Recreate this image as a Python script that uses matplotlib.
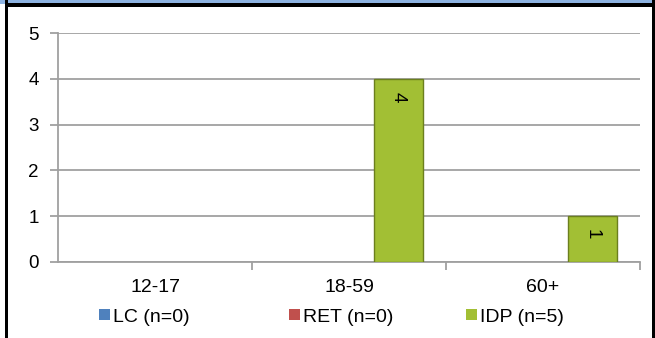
import matplotlib
matplotlib.use("Agg")
import matplotlib.pyplot as plt
from matplotlib.patches import Rectangle
import numpy as np

# data
categories = ["12-17", "18-59", "60+"]
series_names = ["LC (n=0)", "RET (n=0)", "IDP (n=5)"]
lc_values = [0, 0, 0]
ret_values = [0, 0, 0]
idp_values = [0, 4, 1]
yticks = [0, 1, 2, 3, 4, 5]

face_colors = ["#4f81bd", "#c0504d", "#a2bf34"]
edge_colors = ["#2c4d75", "#8c3836", "#6b7f1e"]

plt.rcParams['font.family'] = ['Liberation Sans', 'DejaVu Sans']

W, H = 655, 338
fig = plt.figure(figsize=(W / 100, H / 100), dpi=100)

# frame pieces: blue title band cut off at the top, black border
fig.patches.append(Rectangle((0, (H - 3.5) / H), 1, 3.5 / H, transform=fig.transFigure,
                             facecolor="#8db3e2", edgecolor="none"))
fig.patches.append(Rectangle((5 / W, (H - 6.5) / H), (W - 5) / W, 3 / H, transform=fig.transFigure,
                             facecolor="black", edgecolor="none"))
fig.patches.append(Rectangle((5 / W, 0), 3 / W, 1, transform=fig.transFigure,
                             facecolor="black", edgecolor="none"))
fig.patches.append(Rectangle((652 / W, 0), 3 / W, 1, transform=fig.transFigure,
                             facecolor="black", edgecolor="none"))

ax = fig.add_axes([58 / W, (H - 262) / H, 582 / W, (262 - 33) / H])

x = np.arange(len(categories))
bw = 0.2526
all_values = [lc_values, ret_values, idp_values]
handles = []
for j, vals in enumerate(all_values):
    lw = [1.0 if v > 0 else 0 for v in vals]
    bars = ax.bar(x + (j - 1) * bw, vals, width=bw, color=face_colors[j],
                  edgecolor=edge_colors[j], linewidth=lw, zorder=3, label=series_names[j])
    handles.append(bars)
    for xi, v in zip(x, vals):
        if v > 0:
            ax.text(xi + (j - 1) * bw, v - 0.28, str(v), rotation=270, ha="center", va="top",
                    fontsize=13.5, zorder=4)

ax.set_xlim(-0.5, 2.5)
ax.set_ylim(0, 5)
ax.set_yticks(yticks)
ax.set_xticks(x)
ax.set_xticklabels(categories, fontsize=14)
ax.set_xticks([0.5, 1.5, 2.5], minor=True)
ax.tick_params(axis="x", which="major", length=0, pad=12)
ax.tick_params(axis="x", which="minor", length=6, color="#a0a0a0", width=1.3)
ax.tick_params(axis="y", labelsize=13.5, length=6, color="#a0a0a0", width=1.3, pad=8)
ax.grid(axis="y", color="#a0a0a0", linewidth=1.3, zorder=0)
for s in ["top", "right"]:
    ax.spines[s].set_visible(False)
for s in ["left", "bottom"]:
    ax.spines[s].set_color("#a0a0a0")
    ax.spines[s].set_linewidth(1.3)

# one legend entry per slot, Excel style equal columns
legend_x = [99, 289, 466]
for h, name, lx in zip(handles, series_names, legend_x):
    leg = fig.legend(handles=[h], labels=[name], loc="center left",
                     bbox_to_anchor=(lx / W, (H - 317) / H), frameon=False, fontsize=14,
                     handlelength=0.55, handleheight=0.55, handletextpad=0.15,
                     borderpad=0, borderaxespad=0)

fig.savefig("out.png", dpi=100, facecolor="white")
